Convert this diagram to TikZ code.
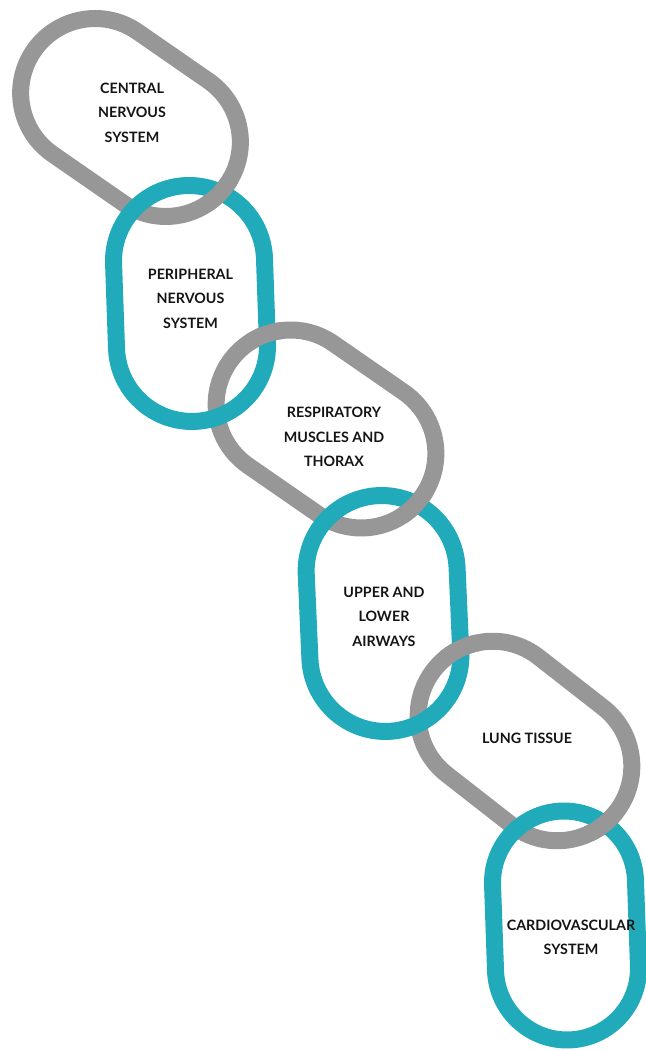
\documentclass[tikz,border=0pt]{standalone}
\usepackage{fontspec}
\setmainfont{Lato}
\definecolor{linkgray}{RGB}{151,151,151}
\definecolor{linkteal}{RGB}{32,170,186}
\newcommand{\chainlink}[6]{%
  % #1,#2 centre, #3 clockwise axis angle, #4 half length, #5 radius, #6 style
  \draw[#6, shift={(#1,#2)}, rotate=-#3]
    (-#4,#5) -- (#4,#5) arc[start angle=90, end angle=-90, radius=#5]
    -- (-#4,-#5) arc[start angle=270, end angle=90, radius=#5] -- cycle;}
\begin{document}
\begin{tikzpicture}[x=1pt,y=1pt,
  graylink/.style={draw=linkgray, line width=17pt},
  teallink/.style={draw=linkteal, line width=17pt},
  label/.style={align=center, text=black!92, font=\bfseries\fontsize{14.3}{24.5}\selectfont}]
\useasboundingbox (0,0) rectangle (645,1051);
% grey links
\chainlink{130.5}{933.5}{34.7}{43}{74.5}{graylink}
\chainlink{326}{622}{34.7}{43}{74.5}{graylink}
\chainlink{525}{310}{38}{41}{74.5}{graylink}
% teal links
\chainlink{190.5}{747.5}{88}{42.5}{75.5}{teallink}
\chainlink{383.5}{437.5}{87.5}{42.5}{75.5}{teallink}
\chainlink{565.5}{125.5}{88}{43}{71.5}{teallink}
% grey over teal at the right-hand crossings
\begin{scope}\clip (221,858) circle[radius=20];
\chainlink{130.5}{933.5}{34.7}{43}{74.5}{graylink}\end{scope}
\begin{scope}\clip (266,718) circle[radius=20];
\chainlink{326}{622}{34.7}{43}{74.5}{graylink}\end{scope}
\begin{scope}\clip (416.3,546.4) circle[radius=20];
\chainlink{326}{622}{34.7}{43}{74.5}{graylink}\end{scope}
\begin{scope}\clip (460,402.8) circle[radius=20];
\chainlink{525}{310}{38}{41}{74.5}{graylink}\end{scope}
\begin{scope}\clip (604,226.6) circle[radius=20];
\chainlink{525}{310}{38}{41}{74.5}{graylink}\end{scope}
% labels
\node[label] (cns) at (132,938.5) {CENTRAL\\NERVOUS\\SYSTEM};
\node[label] (pns) at (190.5,752.5) {PERIPHERAL\\NERVOUS\\SYSTEM};
\node[label] (resp) at (334,614) {RESPIRATORY\\MUSCLES AND\\THORAX};
\node[label] (air) at (384,434.3) {UPPER AND\\LOWER\\AIRWAYS};
\node[label] (lung) at (527,312.5) {LUNG TISSUE};
\node[label] (cardio) at (571,113.5) {CARDIOVASCULAR\\SYSTEM};
\end{tikzpicture}
\end{document}
